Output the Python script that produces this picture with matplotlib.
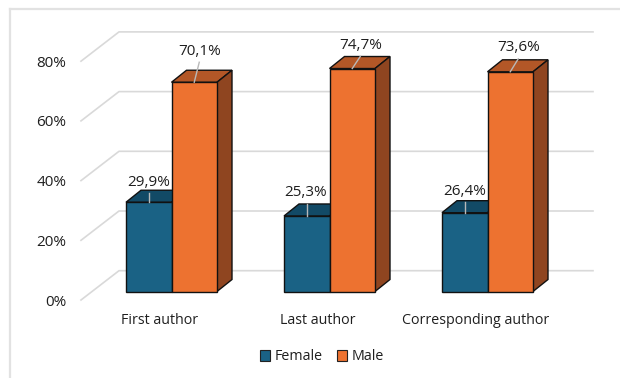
"""Authorship by gender: clustered bars with a drawn 3D look."""
import matplotlib
matplotlib.use("Agg")
import matplotlib.pyplot as plt
from matplotlib.patches import Patch

categories = ["First author", "Last author", "Corresponding author"]
female = [29.9, 25.3, 26.4]
male = [70.1, 74.7, 73.6]
y_ticks = [0, 20, 40, 60, 80]

# figure scale: pixels per category step and per percent
X0 = 171.5
Y0 = 291.5
PX_X = 158.0
PX_Y = 2.985
BAR_W = 45.5 / PX_X
DEPTH_X = 15.0 / PX_X
DEPTH_Y = 12.0 / PX_Y

BLUE, BLUE_TOP = "#1a6285", "#124a66"
ORANGE, ORANGE_TOP, ORANGE_SIDE = "#ed7230", "#b35727", "#8f4520"
TEXT = "#1f1f1f"
GRID = "#d9d9d9"

# label offset from the bar's top-centre, and where the leader ends, in px
LABEL_OFF = {
    "f": [(0, 20), (-1, 23), (0, 21)],
    "m": [(5, 31), (8, 23), (8, 24)],
}
LEADER_OFF = {
    "f": [(0, 9), (0, 12), (0, 11)],
    "m": [(5, 20), (8, 12), (8, 13)],
}

plt.rcParams["font.family"] = ["Open Sans", "DejaVu Sans"]

fig = plt.figure(figsize=(6.2, 3.78), dpi=100)
ax = fig.add_axes([0, 0, 1, 1])
ax.set_xlim(-X0 / PX_X, (620 - X0) / PX_X)
ax.set_ylim((Y0 - 378) / PX_Y, Y0 / PX_Y)
ax.axis("off")


def px_x(dx):
    return dx / PX_X


def px_y(dy):
    return dy / PX_Y


# outer frame, left and top only
ax.plot([px_x(10 - X0)] * 2, [px_y(Y0 - 378), px_y(Y0 - 9)], color="#e2e2e2", lw=1.6, zorder=1)
ax.plot([px_x(10 - X0), px_x(620 - X0)], [px_y(Y0 - 9)] * 2, color="#e2e2e2", lw=1.6, zorder=1)

# gridlines run up the side wall, then along the back wall
wall_x = [px_x(81 - X0), px_x(119 - X0), px_x(593 - X0)]
for t in y_ticks:
    y_front = t - px_y(8.5)
    y_back = t + px_y(20.8)
    ax.plot(wall_x, [y_front, y_back, y_back], color=GRID, lw=1.2, zorder=1)
    ax.text(px_x(66.5 - X0), y_front - px_y(2), f"{t}%", ha="right", va="center",
            fontsize=11, color=TEXT)


def draw_bar(x, v, front, top, side):
    left, right = x, x + BAR_W
    ax.fill([left, right, right + DEPTH_X, left + DEPTH_X],
            [v, v, v + DEPTH_Y, v + DEPTH_Y],
            facecolor=top, edgecolor="#111111", lw=1, zorder=3)
    ax.fill([right, right + DEPTH_X, right + DEPTH_X, right],
            [0, DEPTH_Y, v + DEPTH_Y, v],
            facecolor=side, edgecolor="#111111", lw=1, zorder=3)
    ax.bar(x, v, width=BAR_W, align="edge", color=front, edgecolor="#111111", lw=1, zorder=4)


def draw_label(x_mid, v, i, key):
    lx, ly = LEADER_OFF[key][i]
    tx, ty = LABEL_OFF[key][i]
    ax.plot([x_mid, x_mid + px_x(lx)], [v, v + px_y(ly)], color="#b9b9b9", lw=1, zorder=5)
    ax.text(x_mid + px_x(tx), v + px_y(ty), f"{v:.1f}%".replace(".", ","),
            ha="center", va="center", fontsize=11, color=TEXT, zorder=6)


# male goes after female so its front covers the blue top
for i, cat in enumerate(categories):
    draw_bar(i - BAR_W, female[i], BLUE, BLUE_TOP, BLUE_TOP)
    draw_bar(i, male[i], ORANGE, ORANGE_TOP, ORANGE_SIDE)
    draw_label(i - BAR_W / 2, female[i], i, "f")
    draw_label(i + BAR_W / 2, male[i], i, "m")
    ax.text(i - px_x(12), px_y(-28.5), cat, ha="center", va="center", fontsize=10.3, color=TEXT)

handles = [
    Patch(facecolor=BLUE, edgecolor="#222222", lw=0.8, label="Female"),
    Patch(facecolor=ORANGE, edgecolor="#222222", lw=0.8, label="Male"),
]
ax.legend(handles=handles, ncol=2, frameon=False, loc="center",
          bbox_to_anchor=(322 / 620, 1 - 357 / 378), fontsize=10.3,
          handlelength=0.7, handleheight=0.7, handletextpad=0.35, columnspacing=1.0,
          labelcolor=TEXT)

fig.savefig("out.png", dpi=100, facecolor="white")
